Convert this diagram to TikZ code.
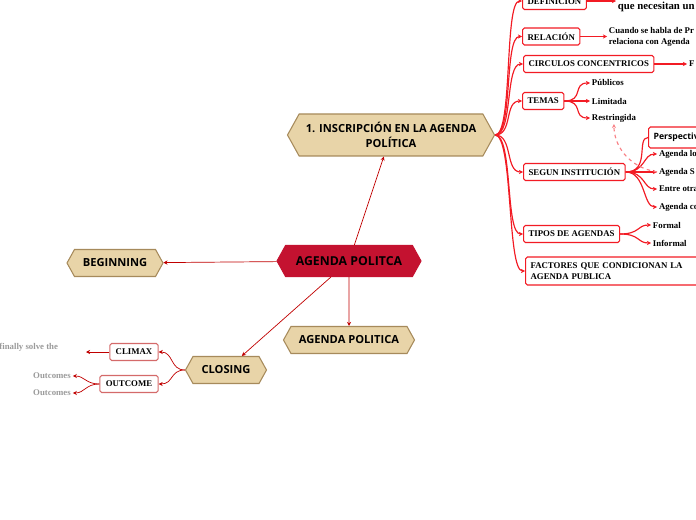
\documentclass[tikz,border=0pt]{standalone}
\usepackage{fontspec}
\setmainfont{Liberation Serif}
\newfontfamily\hexfont{Open Sans}
\usepackage{tikz}
\usetikzlibrary{arrows.meta,shapes.symbols}
\definecolor{crim}{HTML}{C41230}
\definecolor{tanf}{HTML}{E8D4A8}
\definecolor{tand}{HTML}{A68A5B}
\definecolor{rred}{HTML}{F21B24}
\definecolor{dred}{HTML}{C00000}
\definecolor{lboxc}{HTML}{D46A6A}
\definecolor{gtxt}{HTML}{9A9A9A}

\begin{document}
\begin{tikzpicture}[x=0.3mm,y=-0.3mm,>={Stealth[length=3.5pt,width=3.5pt]},
  hex/.style={signal,signal to=west and east,signal pointer angle=122,draw=tand,fill=tanf,line width=0.9pt,
    font=\hexfont\bfseries\fontsize{9.5}{12.8}\selectfont,minimum height=8.1mm,inner sep=1pt},
  rbox/.style={draw=rred,fill=white,rounded corners=1.5pt,line width=0.9pt,
    font=\bfseries\fontsize{7.5}{9.4}\selectfont,minimum height=5.1mm,inner xsep=4.3pt,inner ysep=1pt},
  lbox/.style={rbox,draw=lboxc,inner xsep=5pt},
  leaf/.style={font=\bfseries\fontsize{7.5}{9.4}\selectfont,inner sep=1.5pt},
  gleaf/.style={leaf,text=gtxt},
  rc/.style={draw=rred,line width=1pt,->},
  dc/.style={draw=dred,line width=0.6pt,->}]
\useasboundingbox (0,0) rectangle (696,520);

\node[hex,fill=crim,draw=crim,font=\hexfont\bfseries\fontsize{10.5}{12}\selectfont,
  minimum width=43.2mm,minimum height=9.3mm] (root) at (349,261) {AGENDA POLITCA};
\node[hex,align=center,minimum width=62.1mm,minimum height=12.6mm] (insc) at (391,135) {1. INSCRIPCIÓN EN LA AGENDA\\POLÍTICA};
\node[hex,minimum width=28.8mm] (begin) at (115,263) {BEGINNING};
\node[hex,minimum width=39.3mm] (agpol) at (349,340) {AGENDA POLITICA};
\node[hex,minimum width=24.3mm] (closing) at (226,370) {CLOSING};

\draw[dc] (root) -- (insc);
\draw[dc] (root) -- (begin);
\draw[dc] (root) -- (agpol);
\draw[dc] (root) -- (closing);

\node[lbox] (climax) at (134,352) {CLIMAX};
\node[lbox] (outc) at (129,384) {OUTCOME};
\draw[dc] (closing.west) .. controls +(-15,0) and +(15,0) .. (climax.east);
\draw[dc] (closing.west) .. controls +(-15,0) and +(15,0) .. (outc.east);
\coordinate (clx) at (86,352);
\node[gleaf,anchor=east] (clxtxt) at (60,347) {finally solve the};
\draw[dc] (climax) -- (clx);
\node[gleaf] (oc1) at (52,376) {Outcomes};
\node[gleaf] (oc2) at (52,393) {Outcomes};
\draw[dc] (outc.west) .. controls +(-14,0) and +(12,0) .. (oc1.east);
\draw[dc] (outc.west) .. controls +(-14,0) and +(12,0) .. (oc2.east);

\node[rbox,anchor=west] (defi) at (522,1) {DEFINICIÓN};
\node[rbox,anchor=west] (rel) at (522,36.5) {RELACIÓN};
\node[rbox,anchor=west] (circ) at (523,64) {CIRCULOS CONCENTRICOS};
\node[rbox,anchor=west] (temas) at (522,101) {TEMAS};
\node[rbox,anchor=west] (segun) at (523,172) {SEGUN INSTITUCIÓN};
\node[rbox,anchor=west] (tipos) at (523,234) {TIPOS DE AGENDAS};
\node[rbox,anchor=west,align=left,text width=50mm,minimum height=8.4mm] (fact) at (525,271) {FACTORES QUE CONDICIONAN LA\\AGENDA PUBLICA};

\draw[rc] (insc.east) .. controls +(18,0) and +(-18,0) .. (defi.west);
\draw[rc] (insc.east) .. controls +(18,0) and +(-18,0) .. (rel.west);
\draw[rc] (insc.east) .. controls +(18,0) and +(-18,0) .. (circ.west);
\draw[rc] (insc.east) .. controls +(18,0) and +(-18,0) .. (temas.west);
\draw[rc] (insc.east) .. controls +(18,0) and +(-18,0) .. (segun.west);
\draw[rc] (insc.east) .. controls +(18,0) and +(-18,0) .. (tipos.west);
\draw[rc] (insc.east) .. controls +(18,0) and +(-18,0) .. (fact.west);

\node[leaf,anchor=west,font=\bfseries\fontsize{9.2}{11}\selectfont] (quetxt) at (616,7) {que necesitan un};
\draw[rc] (defi.east) -- (defi.east -| quetxt.west);
\node[leaf,anchor=west,align=left,font=\bfseries\fontsize{7.5}{9.4}\selectfont] (cuando) at (607,36.5) {Cuando se habla de Pr\\relaciona con Agenda};
\draw[rc] (rel) -- (cuando);
\node[leaf,anchor=west] (ftxt) at (687,64) {F};
\draw[rc] (circ) -- (ftxt);

\node[leaf,anchor=west] (pub) at (590,83) {Públicos};
\node[leaf,anchor=west] (lim) at (590,101) {Limitada};
\node[leaf,anchor=west] (res) at (590,118) {Restringida};
\draw[rc] (temas.east) .. controls +(20,0) and +(-18,0) .. (pub.west);
\draw[rc] (temas) -- (lim);
\draw[rc] (temas.east) .. controls +(20,0) and +(-18,0) .. (res.west);

\node[rbox,anchor=west,font=\hexfont\bfseries\fontsize{7.4}{9}\selectfont,minimum height=6.3mm] (persp) at (648,137.5) {Perspectiva};
\node[leaf,anchor=west] (alo) at (657,154) {Agenda lo};
\node[leaf,anchor=west] (asg) at (657,172) {Agenda S};
\node[leaf,anchor=west] (entre) at (657,189) {Entre otra};
\node[leaf,anchor=west] (aco) at (657,207) {Agenda co};
\draw[draw=rred,line width=1pt] (segun.east) .. controls +(25,0) and +(-12,0) .. (persp.west);
\draw[rc] (segun.east) .. controls +(20,0) and +(-14,0) .. (alo.west);
\draw[rc] (segun) -- (asg);
\draw[rc] (segun.east) .. controls +(20,0) and +(-14,0) .. (entre.west);
\draw[rc] (segun.east) .. controls +(20,0) and +(-14,0) .. (aco.west);
\draw[rc,draw=rred!55,dashed] (asg.west) .. controls +(-30,-5) and +(0,20) .. (res.south);

\node[leaf,anchor=west] (formal) at (651,225) {Formal};
\node[leaf,anchor=west] (informal) at (651,243) {Informal};
\draw[rc] (tipos.east) .. controls +(20,0) and +(-14,0) .. (formal.west);
\draw[rc] (tipos.east) .. controls +(20,0) and +(-14,0) .. (informal.west);
\end{tikzpicture}
\end{document}
